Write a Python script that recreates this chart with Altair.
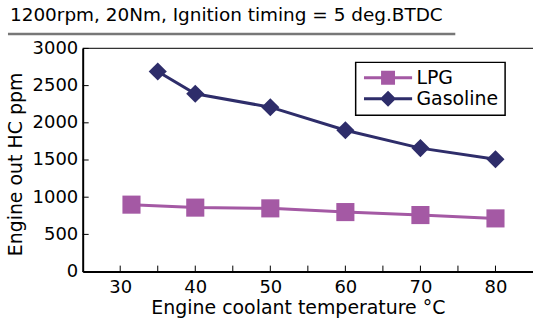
import altair as alt
import pandas as pd

# ---- data ----
series = ["LPG", "Gasoline"]
colors = ["#A459A4", "#2E2D6A"]
lpg_temp = [31.5, 40, 50, 60, 70, 80]
lpg_hc = [900, 860, 850, 800, 760, 715]
gas_temp = [35, 40, 50, 60, 70, 80]
gas_hc = [2690, 2390, 2210, 1900, 1660, 1510]
x_major = [30, 40, 50, 60, 70, 80]
x_ticks = [30, 35, 40, 45, 50, 55, 60, 65, 70, 75, 80]
y_ticks = [0, 500, 1000, 1500, 2000, 2500, 3000]
title_text = "1200rpm, 20Nm, Ignition timing = 5 deg.BTDC"

W, H = 452, 224
FONT = "DejaVu Sans"

df = pd.DataFrame({
    "temp": lpg_temp + gas_temp,
    "hc": lpg_hc + gas_hc,
    "fuel": [series[0]] * len(lpg_temp) + [series[1]] * len(gas_temp),
})

xs = alt.Scale(domain=[25, 85], nice=False, zero=False)
ys = alt.Scale(domain=[0, 3000], nice=False)

x_axis = alt.Axis(values=x_major, title="Engine coolant temperature \u00b0C", grid=False,
                  ticks=False, labelPadding=7, titlePadding=2, format="d",
                  titleX=216, titleAlign="center")
y_axis = alt.Axis(values=y_ticks, title="Engine out HC ppm", grid=False,
                  ticks=False, labelPadding=5, titlePadding=7, format="d",
                  titleY=116, titleAlign="center")

X = alt.X("temp:Q", scale=xs, axis=x_axis)
Y = alt.Y("hc:Q", scale=ys, axis=y_axis)

lines = alt.Chart(df).mark_line(strokeWidth=3).encode(
    x=X, y=Y,
    color=alt.Color("fuel:N", scale=alt.Scale(domain=series, range=colors), legend=None),
)

points = alt.Chart(df).mark_point(filled=True, opacity=1, size=330, strokeWidth=0).encode(
    x=X, y=Y,
    color=alt.Color("fuel:N", scale=alt.Scale(domain=series, range=colors), legend=None),
    shape=alt.Shape("fuel:N", scale=alt.Scale(domain=series, range=["square", "diamond"]), legend=None),
)

# legend: symbol = line segment + marker
lpg_sym = "M-3.45,-0.22H3.45V0.22H-3.45Z M-1,-1H1V1H-1Z"
gas_sym = "M-3.45,-0.22H3.45V0.22H-3.45Z M0,-1.15L1.15,0L0,1.15L-1.15,0Z"
leg_props = dict(title=None, orient="none", legendX=274, legendY=14,
                 strokeColor="black", fillColor="white", padding=6,
                 symbolSize=196, symbolOffset=17, symbolStrokeWidth=0,
                 labelOffset=19, labelFontSize=19, labelFont=FONT, labelColor="black",
                 rowPadding=1)
legend_layer = alt.Chart(df).transform_filter("false").mark_point(filled=True, opacity=1).encode(
    color=alt.Color("fuel:N", scale=alt.Scale(domain=series, range=colors), legend=alt.Legend(**leg_props)),
    shape=alt.Shape("fuel:N", scale=alt.Scale(domain=series, range=[lpg_sym, gas_sym]), legend=alt.Legend(**leg_props)),
)

# inward ticks
xt = alt.Chart(pd.DataFrame({"temp": x_ticks})).mark_rule(color="black", strokeWidth=1).encode(
    x=X, y=alt.value(H), y2=alt.value(H - 6))
yt = alt.Chart(pd.DataFrame({"hc": y_ticks})).mark_rule(color="black", strokeWidth=1).encode(
    y=Y, x=alt.value(0), x2=alt.value(6))

one = pd.DataFrame({"k": [0]})
top_line = alt.Chart(one).mark_rule(color="#333333", strokeWidth=1.2).encode(
    x=alt.value(0), x2=alt.value(W + 10), y=alt.value(0))
underline = alt.Chart(one).mark_rule(color="#777777", strokeWidth=2.5).encode(
    x=alt.value(-75), x2=alt.value(374), y=alt.value(-14.5))

chart = alt.layer(top_line, underline, xt, yt, lines, points, legend_layer).resolve_scale(
    color="independent", shape="independent"
).properties(
    width=W, height=H, background="white",
    autosize=alt.AutoSizeParams(type="none"),
    padding={"left": 83, "top": 48, "right": 0, "bottom": 52},
    title=alt.TitleParams(title_text, anchor="start", frame="group", dx=-73, offset=8,
                          fontSize=18.5, font=FONT, fontWeight="normal", color="black"),
).configure_view(stroke=None).configure_axis(
    domainColor="black", domainWidth=2, labelFont=FONT, labelFontSize=18, labelColor="black",
    titleFont=FONT, titleFontSize=19, titleFontWeight="normal", titleColor="black"
).configure_legend(strokeWidth=1.5)

chart.save("out.html", embed_options={"renderer": "svg", "actions": False})
